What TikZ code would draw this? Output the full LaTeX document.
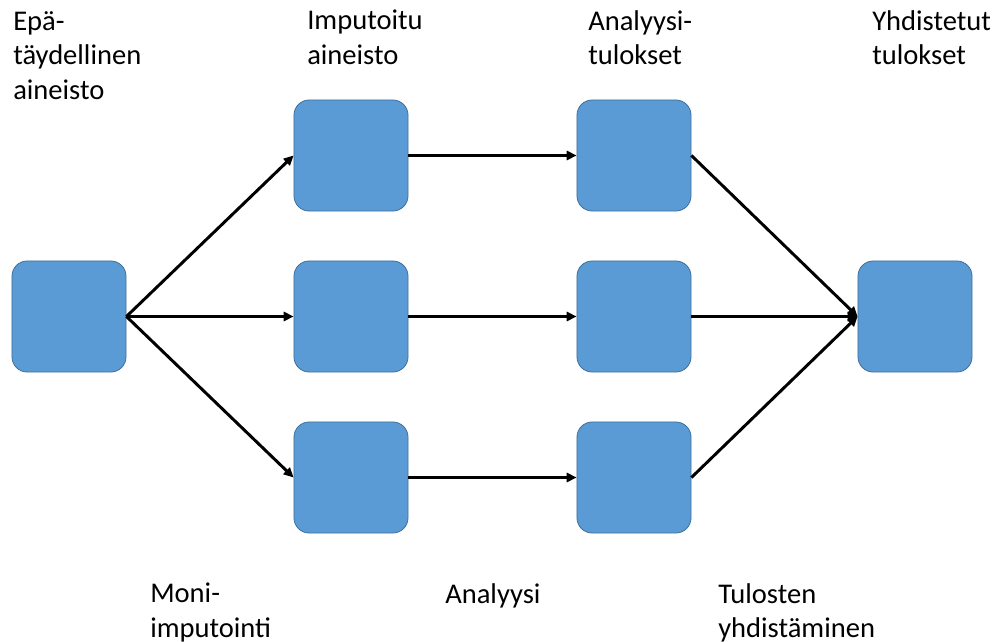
\documentclass[tikz,border=0pt]{standalone}
\usepackage{fontspec}
\setmainfont{Carlito}
\usetikzlibrary{arrows.meta, positioning}
\definecolor{Sininen}{RGB}{91, 155, 213}
\definecolor{Reuna}{RGB}{65, 113, 156}

\begin{document}
\begin{tikzpicture}[x=0.025cm, y=-0.025cm,
        ruutu/.style={rectangle, rounded corners=0.38cm, draw=Reuna, fill=Sininen, line width=0.6pt, minimum width=2.85cm, minimum height=2.775cm},
        nuoli/.style={line width=2.1pt, -{Triangle[length=7pt, width=6.5pt]}, draw=black},
        teksti/.style={anchor=north west, inner sep=0pt, align=left, font=\fontsize{20.3}{24.5}\selectfont}
    ]
        \useasboundingbox (0,0) rectangle (999,642);

        % ================= RUUDUT =================
        \node[ruutu] (alku) at (69, 316.5) {};

        \node[ruutu] (imp1) at (351, 155.5) {};
        \node[ruutu] (imp2) at (351, 316.5) {};
        \node[ruutu] (imp3) at (351, 477.5) {};

        \node[ruutu] (an1) at (634, 155.5) {};
        \node[ruutu] (an2) at (634, 316.5) {};
        \node[ruutu] (an3) at (634, 477.5) {};

        \node[ruutu] (loppu) at (915, 316.5) {};

        % ================= NUOLET =================
        \draw[nuoli] (alku.east) -- (imp1.west);
        \draw[nuoli] (alku.east) -- (imp2.west);
        \draw[nuoli] (alku.east) -- (imp3.west);

        \draw[nuoli] (imp1.east) -- (an1.west);
        \draw[nuoli] (imp2.east) -- (an2.west);
        \draw[nuoli] (imp3.east) -- (an3.west);

        \draw[nuoli] (an1.east) -- (loppu.west);
        \draw[nuoli] (an2.east) -- (loppu.west);
        \draw[nuoli] (an3.east) -- (loppu.west);

        % ================= TEKSTIT =================
        \node[teksti] (t_alku) at (13, 11) {Epä-\\täydellinen\\aineisto};
        \node[teksti] (t_imp) at (307, 10) {Imputoitu\\aineisto};
        \node[teksti] (t_an) at (588, 10) {Analyysi-\\tulokset};
        \node[teksti] (t_loppu) at (872, 10) {Yhdistetut\\tulokset};

        \node[teksti] (t_moni) at (150, 583) {Moni-\\imputointi};
        \node[teksti] (t_analyysi) at (445, 583) {Analyysi};
        \node[teksti] (t_yhd) at (718, 583) {Tulosten\\yhdistäminen};
    \end{tikzpicture}
\end{document}
